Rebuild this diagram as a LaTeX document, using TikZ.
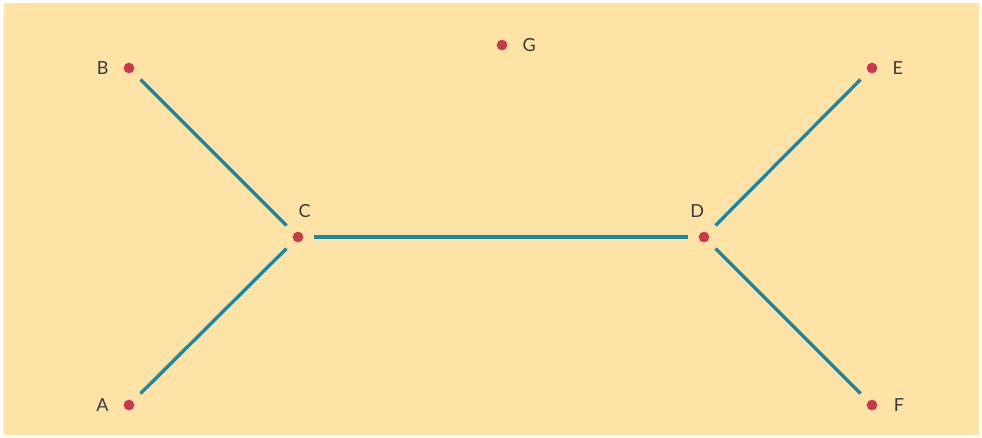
\documentclass[tikz,border=0pt]{standalone}
\usepackage{fontspec}
\setmainfont{Lato}
\usetikzlibrary{positioning}
\definecolor{paper}{HTML}{FDE3A6}
\definecolor{dotred}{HTML}{C8374A}
\definecolor{edgeblue}{HTML}{1A87A8}
\definecolor{labelink}{HTML}{3A3A3A}

\begin{document}
\begin{tikzpicture}[
  x=0.75pt, y=-0.75pt, font=\fontsize{13.5}{16}\selectfont,
  vert/.style={circle, fill=dotred, inner sep=0pt, minimum size=8pt},
  vlabel/.style={text=labelink, inner sep=0pt},
  edge/.style={draw=edgeblue, line width=2.5pt, shorten <=8pt, shorten >=8pt}
]
\useasboundingbox (0,0) rectangle (982,437);
\fill[paper] (4,3) rectangle (979,435);

\node[vert] (A) at (129,405) {};
\node[vert] (B) at (129,68) {};
\node[vert] (C) at (298,237) {};
\node[vert] (D) at (704,237) {};
\node[vert] (E) at (872,68) {};
\node[vert] (F) at (872,405) {};
\node[vert] (G) at (502,45) {};

\node[vlabel, left=11pt of A] (lA) {A};
\node[vlabel, left=11pt of B] (lB) {B};
\node[vlabel, above=10pt of C, xshift=5pt] (lC) {C};
\node[vlabel, above=10pt of D, xshift=-5pt] (lD) {D};
\node[vlabel, right=11pt of E] (lE) {E};
\node[vlabel, right=12pt of F] (lF) {F};
\node[vlabel, right=11pt of G] (lG) {G};

\draw[edge] (B) -- (C);
\draw[edge] (A) -- (C);
\draw[edge] (C) -- (D);
\draw[edge] (D) -- (E);
\draw[edge] (D) -- (F);
\end{tikzpicture}
\end{document}
